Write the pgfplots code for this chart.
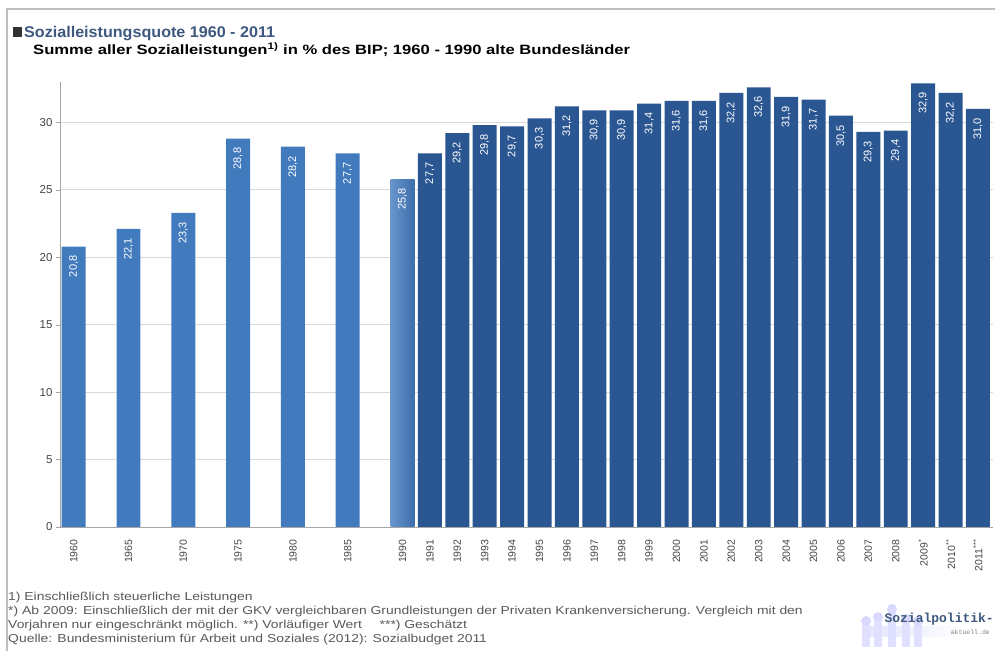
\documentclass[border=0pt]{standalone}
\usepackage{pgfplots}
\pgfplotsset{compat=1.18}
\usepackage{fontspec}
\setmainfont{Liberation Sans}
\setmonofont{Liberation Mono}

\definecolor{lightbar}{RGB}{66,122,190}
\definecolor{darkbar}{RGB}{42,86,146}
\definecolor{titleblue}{RGB}{62,88,126}
\definecolor{frame}{RGB}{190,190,190}
\definecolor{txt}{RGB}{70,70,70}

\begin{document}
\begin{tikzpicture}
\begin{scope}[x=1bp,y=1bp]
\useasboundingbox (0,0) rectangle (995,651);
\fill[white] (0,0) rectangle (995,651);
% frame (only top and left visible)
\draw[frame, line width=1.2bp] (7,0) -- (7,642) -- (995,642);

% title
\fill[black!80] (13,614) rectangle (22,624);
\node[anchor=base west, inner sep=0, xscale=1.04, text=titleblue, font=\fontsize{15.5bp}{18bp}\selectfont\bfseries] at (24,613) {Sozialleistungsquote 1960 - 2011};
\node[anchor=base west, inner sep=0, xscale=1.23, font=\fontsize{13.5bp}{16bp}\selectfont\bfseries] at (33,596) {Summe aller Sozialleistungen\textsuperscript{1)} in \% des BIP; 1960 - 1990 alte Bundesländer};
\end{scope}

\begin{axis}[
  at={(60bp,124bp)}, anchor=south west,
  width=933bp, height=445bp, scale only axis,
  ybar, bar width=0.875,
  xmin=-0.5, xmax=33.55, ymin=0, ymax=33,
  axis x line*=bottom, axis y line*=left,
  axis line style={draw=black!35, line width=0.8bp},
  ytick={0,5,...,30},
  ymajorgrids, grid style={draw=black!15, line width=0.8bp},
  tick align=outside, major tick length=4bp,
  ytick style={draw=black!35},
  xtick style={draw=none},
  xtick={0,2,4,6,8,10,12,13,14,15,16,17,18,19,20,21,22,23,24,25,26,27,28,29,30,31,32,33},
  xticklabels={1960,1965,1970,1975,1980,1985,1990,1991,1992,1993,1994,1995,1996,1997,1998,1999,2000,2001,2002,2003,2004,2005,2006,2007,2008,2009\textsuperscript{*},2010\textsuperscript{**},2011\textsuperscript{***}},
  /pgf/number format/assume math mode=true,
  yticklabel style={font=\fontsize{11.5bp}{13bp}\selectfont, text=txt},
  xticklabel style={yshift=-5bp, rotate=90, anchor=east, font=\fontsize{10.5bp}{12bp}\selectfont, text=txt},
  nodes near coords={\pgfmathprintnumber[use comma,fixed,fixed zerofill,precision=1]{\pgfplotspointmeta}},
  every node near coord/.append style={rotate=90, anchor=east, inner xsep=9bp, text=white, font=\fontsize{11bp}{12bp}\selectfont},
]
\addplot[fill=lightbar, draw=none, bar shift=0pt] coordinates {
  (0,20.8) (2,22.1) (4,23.3) (6,28.8) (8,28.2) (10,27.7)};
\addplot[left color=lightbar!80!white, right color=lightbar!90!black, draw=none, bar shift=0pt] coordinates {
  (12,25.8)};
\addplot[fill=darkbar, draw=none, bar shift=0pt] coordinates {
  (13,27.7) (14,29.2) (15,29.8) (16,29.7) (17,30.3) (18,31.2) (19,30.9)
  (20,30.9) (21,31.4) (22,31.6) (23,31.6) (24,32.2) (25,32.6) (26,31.9)
  (27,31.7) (28,30.5) (29,29.3) (30,29.4) (31,32.9) (32,32.2) (33,31.0)};
\end{axis}

\begin{scope}[x=1bp,y=1bp]
% footnotes
\begin{scope}[every node/.style={anchor=base west, inner sep=0, xscale=1.21, text=black!65, font=\fontsize{11.5bp}{14bp}\selectfont}]
\node at (8,50) {1) Einschließlich steuerliche Leistungen};
\node at (8,36) {*) Ab 2009: Einschließlich der mit der GKV vergleichbaren Grundleistungen der Privaten Krankenversicherung. Vergleich mit den};
\node at (8,22) {Vorjahren nur eingeschränkt möglich. **) Vorläufiger Wert \quad ***) Geschätzt};
\node at (8,8) {Quelle: Bundesministerium für Arbeit und Soziales (2012): Sozialbudget 2011};
\end{scope}

% logo
\shade[left color=blue!10, right color=white] (868,14) rectangle (965,24);
\foreach \x/\h in {862/22,874/26,888/34,902/24,914/22} {
  \fill[blue!12] (\x,4) rectangle (\x+8,4+\h);
  \fill[blue!15] (\x+4,8+\h) circle (5);
}
\node[anchor=base east, inner sep=0, text=titleblue, font=\fontsize{13bp}{14bp}\selectfont\ttfamily\bfseries] at (994,28) {Sozialpolitik-};
\node[anchor=base east, inner sep=0, text=black!50, font=\fontsize{6.5bp}{8bp}\selectfont\ttfamily] at (990,16) {aktuell.de};
\end{scope}
\end{tikzpicture}
\end{document}
